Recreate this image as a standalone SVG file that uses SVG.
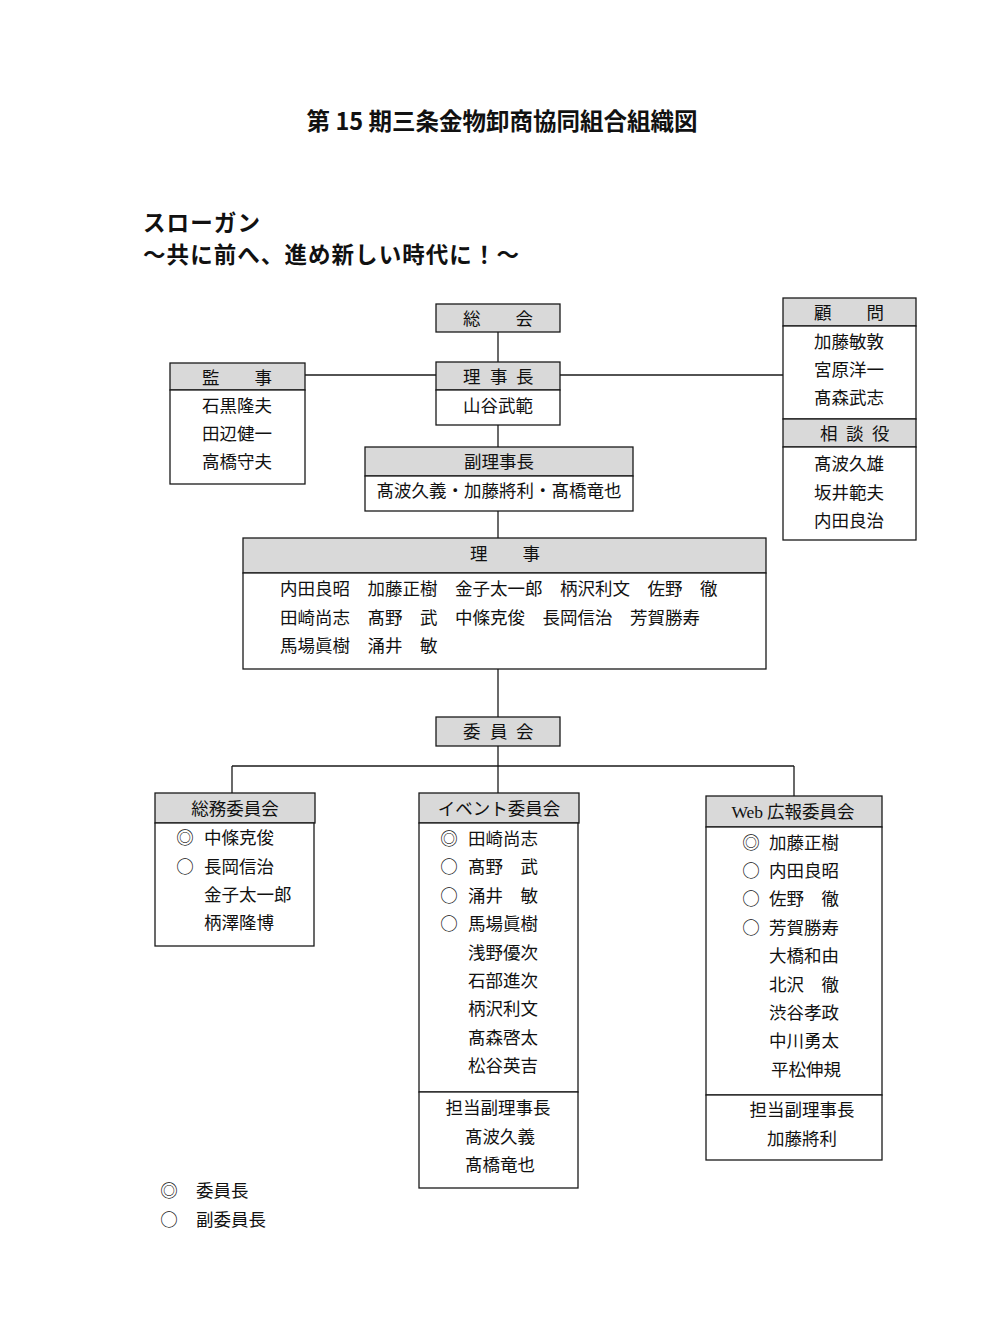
<svg xmlns="http://www.w3.org/2000/svg" width="1002" height="1334" viewBox="0 0 1002 1334">
<style>
  .bg{fill:#ffffff}
  .hd{fill:#d9d9d9;stroke:#1a1a1a;stroke-width:1.3}
  .bd{fill:#ffffff;stroke:#1a1a1a;stroke-width:1.3}
  .ln{fill:none;stroke:#1a1a1a;stroke-width:1.3}
  text{font-family:"Noto Sans CJK JP","Noto Sans CJK SC",sans-serif;font-size:17.5px;fill:#111;white-space:pre}
  .c{text-anchor:middle}
  .ttl{font-size:23.5px;font-weight:bold}
  .slg{font-size:22.5px;font-weight:bold}
  .lat{font-family:"Liberation Serif",serif}
</style>
<rect class="bg" x="0" y="0" width="1002" height="1334"/>

<text class="ttl c" x="502" y="130">第 15 期三条金物卸商協同組合組織図</text>
<text class="slg" x="143" y="231" textLength="117">スローガン</text>
<text class="slg" x="143" y="263" textLength="376">～共に前へ、進め新しい時代に！～</text>

<g id="connectors">
  <line class="ln" x1="498" y1="332" x2="498" y2="362"/>
  <line class="ln" x1="305" y1="375" x2="436" y2="375"/>
  <line class="ln" x1="560" y1="375" x2="783" y2="375"/>
  <line class="ln" x1="498" y1="425" x2="498" y2="447"/>
  <line class="ln" x1="498" y1="511" x2="498" y2="538"/>
  <line class="ln" x1="498" y1="669" x2="498" y2="717"/>
  <line class="ln" x1="498" y1="746" x2="498" y2="793"/>
  <line class="ln" x1="232" y1="766" x2="794" y2="766"/>
  <line class="ln" x1="232" y1="766" x2="232" y2="793"/>
  <line class="ln" x1="794" y1="766" x2="794" y2="796"/>
</g>

<g id="soukai">
  <rect class="hd" x="436" y="304" width="124" height="28"/>
  <text class="c" x="498" y="325">総　　会</text>
</g>

<g id="rijicho">
  <rect class="hd" x="436" y="362" width="124" height="28"/>
  <rect class="bd" x="436" y="390" width="124" height="35"/>
  <text x="463 490 516" y="383">理事長</text>
  <text class="c" x="498" y="412">山谷武範</text>
</g>

<g id="kanji">
  <rect class="hd" x="170" y="363" width="135" height="27"/>
  <rect class="bd" x="170" y="390" width="135" height="94"/>
  <text class="c" x="237" y="384">監　　事</text>
  <text class="c" x="237" y="412">石黒隆夫</text>
  <text class="c" x="237" y="440">田辺健一</text>
  <text class="c" x="237" y="468">高橋守夫</text>
</g>

<g id="komon">
  <rect class="hd" x="783" y="298" width="133" height="28"/>
  <rect class="bd" x="783" y="326" width="133" height="93"/>
  <text class="c" x="849" y="319">顧　　問</text>
  <text class="c" x="849" y="348">加藤敏敦</text>
  <text class="c" x="849" y="376">宮原洋一</text>
  <text class="c" x="849" y="404">髙森武志</text>
</g>

<g id="soudanyaku">
  <rect class="hd" x="783" y="419" width="133" height="28"/>
  <rect class="bd" x="783" y="447" width="133" height="93"/>
  <text x="820 846 872" y="440">相談役</text>
  <text class="c" x="849" y="470">髙波久雄</text>
  <text class="c" x="849" y="499">坂井範夫</text>
  <text class="c" x="849" y="527">内田良治</text>
</g>

<g id="fukurijicho">
  <rect class="hd" x="365" y="447" width="268" height="29"/>
  <rect class="bd" x="365" y="476" width="268" height="35"/>
  <text class="c" x="499" y="468">副理事長</text>
  <text class="c" x="499" y="497">髙波久義・加藤將利・髙橋竜也</text>
</g>

<g id="riji">
  <rect class="hd" x="243" y="538" width="523" height="35"/>
  <rect class="bd" x="243" y="573" width="523" height="96"/>
  <text class="c" x="505" y="560">理　　事</text>
  <text x="280" y="595">内田良昭　加藤正樹　金子太一郎　柄沢利文　佐野　徹</text>
  <text x="280" y="624">田崎尚志　髙野　武　中條克俊　長岡信治　芳賀勝寿</text>
  <text x="280" y="652">馬場眞樹　涌井　敏</text>
</g>

<g id="iinkai">
  <rect class="hd" x="436" y="717" width="124" height="29"/>
  <text x="463 490 516" y="738">委員会</text>
</g>

<g id="soumu">
  <rect class="hd" x="155" y="793" width="160" height="30"/>
  <rect class="bd" x="155" y="823" width="159" height="123"/>
  <text class="c" x="235" y="815">総務委員会</text>
  <text class="c" x="185" y="844">◎</text><text x="204" y="844">中條克俊</text>
  <text class="c" x="185" y="873">○</text><text x="204" y="873">長岡信治</text>
  <text x="204" y="901">金子太一郎</text>
  <text x="204" y="929">柄澤隆博</text>
</g>

<g id="event">
  <rect class="hd" x="419" y="793" width="160" height="30"/>
  <rect class="bd" x="419" y="823" width="159" height="269"/>
  <rect class="bd" x="419" y="1092" width="159" height="96"/>
  <text class="c" x="499" y="815">イベント委員会</text>
  <text class="c" x="449" y="845">◎</text><text x="468" y="845">田崎尚志</text>
  <text class="c" x="449" y="873">○</text><text x="468" y="873">髙野　武</text>
  <text class="c" x="449" y="902">○</text><text x="468" y="902">涌井　敏</text>
  <text class="c" x="449" y="930">○</text><text x="468" y="930">馬場眞樹</text>
  <text x="468" y="959">浅野優次</text>
  <text x="468" y="987">石部進次</text>
  <text x="468" y="1015">柄沢利文</text>
  <text x="468" y="1044">髙森啓太</text>
  <text x="468" y="1072">松谷英吉</text>
  <text class="c" x="498" y="1114">担当副理事長</text>
  <text class="c" x="500" y="1143">髙波久義</text>
  <text class="c" x="500" y="1171">髙橋竜也</text>
</g>

<g id="web">
  <rect class="hd" x="706" y="796" width="176" height="31"/>
  <rect class="bd" x="706" y="827" width="176" height="268"/>
  <rect class="bd" x="706" y="1095" width="176" height="65"/>
  <text class="c" x="793" y="818"><tspan class="lat">Web</tspan> 広報委員会</text>
  <text class="c" x="751" y="849">◎</text><text x="769" y="849">加藤正樹</text>
  <text class="c" x="751" y="877">○</text><text x="769" y="877">内田良昭</text>
  <text class="c" x="751" y="905">○</text><text x="769" y="905">佐野　徹</text>
  <text class="c" x="751" y="934">○</text><text x="769" y="934">芳賀勝寿</text>
  <text x="769" y="962">大橋和由</text>
  <text x="769" y="991">北沢　徹</text>
  <text x="769" y="1019">渋谷孝政</text>
  <text x="769" y="1047">中川勇太</text>
  <text x="771" y="1076">平松伸規</text>
  <text class="c" x="802" y="1116">担当副理事長</text>
  <text class="c" x="802" y="1145">加藤將利</text>
</g>

<g id="legend">
  <text class="c" x="169" y="1197">◎</text><text x="196" y="1197">委員長</text>
  <text class="c" x="169" y="1226">○</text><text x="196" y="1226">副委員長</text>
</g>
</svg>
